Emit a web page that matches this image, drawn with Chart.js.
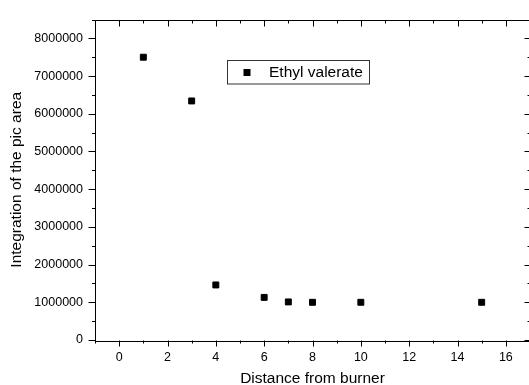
<!DOCTYPE html>
<html>
<head>
<meta charset="utf-8">
<script src="https://cdn.jsdelivr.net/npm/chart.js@4.4.1/dist/chart.umd.min.js"></script>
<style>
  html, body { margin: 0; padding: 0; background: #fff; overflow: hidden; }
  #wrap { width: 529px; height: 385px; overflow: hidden; position: relative; }
  canvas { display: block; }
</style>
</head>
<body>
<div id="wrap"><canvas id="c" width="540" height="395" style="width:540px;height:395px"></canvas></div>
<script>
// ---- data ----
const seriesLabel = "Ethyl valerate";
const distances = [1, 3, 4, 6, 7, 8, 10, 15];
const areas = [7500000, 6340000, 1460000, 1130000, 1010000, 1000000, 1000000, 1000000];
const xTicks = [0, 2, 4, 6, 8, 10, 12, 14, 16];
const yTicks = [0, 1000000, 2000000, 3000000, 4000000, 5000000, 6000000, 7000000, 8000000];
const xMinorTicks = [-1, 1, 3, 5, 7, 9, 11, 13, 15, 17];
const yMinorTicks = [500000, 1500000, 2500000, 3500000, 4500000, 5500000, 6500000, 7500000, 8500000];
const xTitle = "Distance from burner";
const yTitle = "Integration of the pic area";

const FONT = "'Liberation Sans', Arial, Helvetica, sans-serif";

const framePlugin = {
  id: 'frame',
  afterDraw(chart) {
    const ctx = chart.ctx;
    const a = chart.chartArea;
    const xs = chart.scales.x, ys = chart.scales.y;
    ctx.save();
    ctx.strokeStyle = '#000';
    ctx.lineWidth = 1;
    // frame
    ctx.beginPath();
    ctx.rect(Math.round(a.left) + 0.5, Math.round(a.top) + 0.5, Math.round(a.right - a.left), Math.round(a.bottom - a.top));
    ctx.stroke();
    const L = Math.round(a.left) + 0.5, R = Math.round(a.right) + 0.5;
    const T = Math.round(a.top) + 0.5, B = Math.round(a.bottom) + 0.5;
    ctx.beginPath();
    // x ticks: bottom outward, top inward
    xTicks.forEach(v => {
      const p = Math.round(xs.getPixelForValue(v)) + 0.5;
      ctx.moveTo(p, B); ctx.lineTo(p, B + 6);
      ctx.moveTo(p, T); ctx.lineTo(p, T + 6);
    });
    xMinorTicks.forEach(v => {
      const p = Math.round(xs.getPixelForValue(v)) + 0.5;
      ctx.moveTo(p, B); ctx.lineTo(p, B + 3);
      ctx.moveTo(p, T); ctx.lineTo(p, T + 3);
    });
    // y ticks: left outward, right inward
    yTicks.forEach(v => {
      const p = Math.round(ys.getPixelForValue(v)) + 0.5;
      ctx.moveTo(L, p); ctx.lineTo(L - 7, p);
      ctx.moveTo(R, p); ctx.lineTo(R - 6, p);
    });
    yMinorTicks.forEach(v => {
      const p = Math.round(ys.getPixelForValue(v)) + 0.5;
      ctx.moveTo(L, p); ctx.lineTo(L - 3.5, p);
      ctx.moveTo(R, p); ctx.lineTo(R - 3, p);
    });
    ctx.stroke();

    // legend
    const font = "15.5px " + FONT;
    ctx.font = font;
    const tw = ctx.measureText(seriesLabel).width;
    const bx = 227.5, by = 60.5, bh = 23.5;
    const textX = 269;
    const bw = textX + tw + 6.5 - bx;
    ctx.lineWidth = 1;
    ctx.strokeStyle = '#333';
    ctx.strokeRect(bx, by, Math.round(bw), bh);
    ctx.fillStyle = '#000';
    ctx.fillRect(243.5, 69, 7, 7);
    ctx.textBaseline = 'middle';
    ctx.textAlign = 'left';
    ctx.fillText(seriesLabel, textX, 72.5);
    ctx.restore();
  }
};

new Chart(document.getElementById('c'), {
  type: 'scatter',
  data: {
    datasets: [{
      label: seriesLabel,
      data: distances.map((d, i) => ({ x: d, y: areas[i] })),
      pointStyle: 'rect',
      pointRadius: 4.2,
      pointHoverRadius: 4.2,
      borderWidth: 1,
      backgroundColor: '#000',
      borderColor: '#000'
    }]
  },
  options: {
    responsive: false,
    animation: false,
    devicePixelRatio: 1,
    layout: { padding: { top: 19, right: 10, left: 0, bottom: 0 } },
    plugins: { legend: { display: false }, tooltip: { enabled: false } },
    scales: {
      x: {
        type: 'linear',
        min: -1, max: 17,
        afterBuildTicks: s => { s.ticks = xTicks.map(v => ({ value: v })); },
        afterFit: s => { s.height = 55; },
        grid: { display: false, drawTicks: false, tickLength: 0 },
        border: { display: false },
        ticks: {
          padding: 10,
          maxRotation: 0,
          autoSkip: false,
          color: '#000',
          font: { family: FONT, size: 12.5 },
          callback: v => String(v)
        },
        title: {
          display: true,
          text: xTitle,
          color: '#000',
          font: { family: FONT, size: 15.5 },
          padding: { top: 0, bottom: 6.7 }
        }
      },
      y: {
        type: 'linear',
        min: 0, max: 8500000,
        afterBuildTicks: s => { s.ticks = yTicks.map(v => ({ value: v })); },
        afterFit: s => { s.width = 95; },
        grid: { display: false, drawTicks: false, tickLength: 0 },
        border: { display: false },
        ticks: {
          padding: 12,
          autoSkip: false,
          color: '#000',
          font: { family: FONT, size: 12.5 },
          callback: v => String(v)
        },
        title: {
          display: true,
          text: yTitle,
          color: '#000',
          font: { family: FONT, size: 15.5 },
          padding: { top: 7.7, bottom: 0 }
        }
      }
    }
  },
  plugins: [framePlugin]
});
</script>
</body>
</html>
